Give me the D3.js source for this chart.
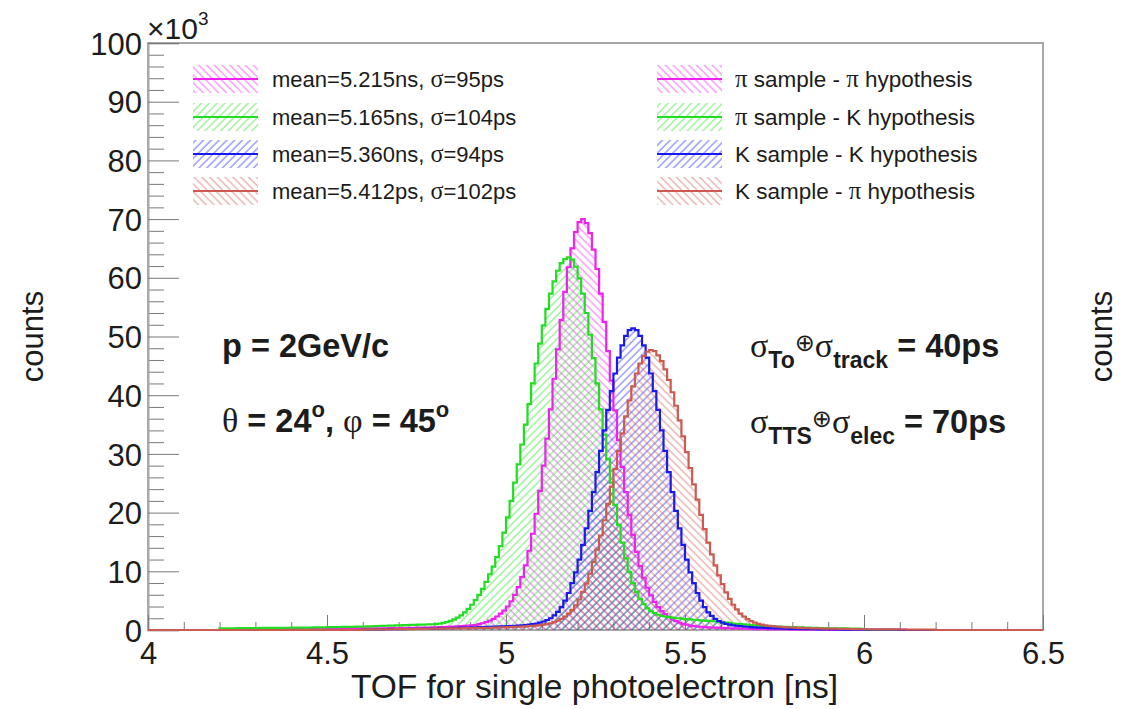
<!DOCTYPE html>
<html><head><meta charset="utf-8">
<script src="https://cdn.jsdelivr.net/npm/d3@7"></script>
<style>
body{margin:0;background:#fff;}
svg text{font-family:"Liberation Sans",Arial,Helvetica,sans-serif;fill:#1c1c1c;}
</style>
</head><body>
<svg id="chart" width="1138" height="709"></svg>
<script>
// ---------------- data (counts in units of 10^3, bin width 0.01 ns) ----------------
const binWidth = 0.01;
const xTickValues = [4, 4.5, 5, 5.5, 6, 6.5];
const xTickLabels = ["4", "4.5", "5", "5.5", "6", "6.5"];
const yTickValues = [0, 10, 20, 30, 40, 50, 60, 70, 80, 90, 100];
const yTickLabels = ["0", "10", "20", "30", "40", "50", "60", "70", "80", "90", "100"];
const legendLeftLabels = ["mean=5.215ns, σ=95ps", "mean=5.165ns, σ=104ps", "mean=5.360ns, σ=94ps", "mean=5.412ps, σ=102ps"];
const legendRightLabels = ["π sample - π hypothesis", "π sample - K hypothesis", "K sample - K hypothesis", "K sample - π hypothesis"];

// π sample - π hypothesis (magenta), first bin edge 4.20
const piPiStart = 4.20;
const piPiCounts = [
 0.1,0.1,0.1,0.1,0.12,0.12,0.12,0.12,0.14,0.14,
 0.14,0.15,0.15,0.15,0.16,0.16,0.16,0.17,0.17,0.18,
 0.18,0.18,0.19,0.19,0.2,0.2,0.2,0.21,0.21,0.22,
 0.22,0.23,0.23,0.24,0.24,0.25,0.25,0.26,0.26,0.27,
 0.27,0.28,0.28,0.29,0.29,0.3,0.3,0.31,0.32,0.33,
 0.34,0.35,0.36,0.37,0.38,0.39,0.4,0.42,0.43,0.45,
 0.47,0.49,0.51,0.53,0.56,0.59,0.62,0.66,0.7,0.75,
 0.8,0.85,1.0,1.15,1.35,1.6,1.9,2.3,2.8,3.3,
 4.0,4.9,6.0,7.3,9.0,11,13.5,16.4,19.8,23.7,
 28,32.6,37.6,42.8,47.8,52.8,57.6,61.8,65,67.8,
 69.5,70,69.3,67.6,64.8,61.5,57.3,52.5,47.5,42.5,
 37.4,32.4,27.8,23.5,19.6,16.2,13.3,10.9,8.9,7.2,
 5.9,4.8,3.9,3.2,2.7,2.2,1.8,1.5,1.25,1.05,
 0.9,0.75,0.65,0.6,0.55,0.5,0.45,0.42,0.4,0.38,
 0.35,0.32,0.3,0.28,0.26,0.24,0.22,0.2,0.18,0.16,
 0.15,0.14,0.13,0.12,0.11,0.1,0.1,0.09,0.09,0.08,
 0.08,0.07,0.07,0.06,0.06,0.05,0.05,0.05,0.04,0.04
];

// π sample - K hypothesis (green), first bin edge 4.20
const piKStart = 4.20;
const piKCounts = [
 0.3,0.3,0.3,0.3,0.3,0.32,0.32,0.32,0.32,0.34,
 0.34,0.34,0.35,0.35,0.36,0.36,0.37,0.37,0.38,0.38,
 0.39,0.4,0.4,0.41,0.42,0.43,0.44,0.45,0.46,0.47,
 0.48,0.49,0.5,0.51,0.52,0.53,0.54,0.55,0.56,0.58,
 0.6,0.62,0.64,0.66,0.68,0.7,0.72,0.74,0.76,0.78,
 0.8,0.82,0.84,0.86,0.88,0.9,0.92,0.94,0.96,0.98,
 1.0,1.1,1.2,1.35,1.55,1.8,2.1,2.5,3.0,3.6,
 4.3,5.1,6.0,7.0,8.2,9.5,10.8,12.4,14.3,16.6,
 19.2,22.0,25.1,28.2,31.6,35.0,38.5,42.0,45.4,48.8,
 51.9,54.7,57.3,59.4,61.2,62.5,63.2,63.5,63.1,61.9,
 59.9,57.3,54.0,50.3,46.3,42.0,37.6,33.3,29.1,25.1,
 21.3,17.9,14.9,12.2,9.9,8.0,6.5,5.3,4.4,3.7,
 3.2,2.9,2.6,2.4,2.3,2.2,2.1,2.0,2.0,1.9,
 1.85,1.8,1.75,1.7,1.65,1.6,1.55,1.5,1.45,1.4,
 1.3,1.25,1.2,1.1,1.05,1.0,0.95,0.9,0.85,0.8,
 0.75,0.7,0.68,0.65,0.62,0.6,0.57,0.55,0.52,0.5,
 0.48,0.46,0.44,0.42,0.4,0.38,0.36,0.34,0.33,0.32,
 0.3,0.29,0.28,0.27,0.26,0.25,0.24,0.23,0.22,0.21
];

// K sample - K hypothesis (blue), first bin edge 4.60
const kKStart = 4.60;
const kKCounts = [
 0.1,0.1,0.11,0.11,0.12,0.12,0.13,0.13,0.14,0.14,
 0.15,0.16,0.17,0.18,0.19,0.2,0.21,0.22,0.23,0.24,
 0.25,0.27,0.29,0.31,0.33,0.35,0.37,0.39,0.41,0.43,
 0.45,0.47,0.49,0.51,0.53,0.55,0.57,0.59,0.61,0.63,
 0.65,0.68,0.72,0.76,0.8,0.85,0.92,1.0,1.1,1.25,
 1.45,1.7,2.0,2.5,3.1,3.9,5.0,6.3,8.0,9.8,
 12.0,14.5,17.3,20.3,23.5,26.9,30.5,34.0,37.5,40.7,
 43.7,46.4,48.5,50.1,51.1,51.4,51.1,50.1,48.5,46.4,
 43.7,40.7,37.5,34.0,30.5,26.9,23.5,20.3,17.3,14.5,
 12.0,9.8,8.0,6.3,5.0,3.9,3.0,2.4,1.9,1.5,
 1.25,1.05,0.9,0.8,0.72,0.66,0.6,0.55,0.5,0.46,
 0.42,0.39,0.36,0.33,0.3,0.28,0.26,0.24,0.22,0.2,
 0.19,0.18,0.17,0.16,0.15,0.14,0.13,0.12,0.11,0.1,
 0.1,0.09,0.09,0.08,0.08,0.07,0.07,0.06,0.06,0.05,
 0.05,0.05,0.05,0.05,0.05,0.05,0.05,0.05,0.05,0.05
];

// K sample - π hypothesis (salmon), first bin edge 4.60
const kPiStart = 4.60;
const kPiCounts = [
 0.1,0.1,0.1,0.11,0.11,0.12,0.12,0.13,0.13,0.14,
 0.14,0.15,0.15,0.16,0.17,0.18,0.19,0.2,0.21,0.22,
 0.23,0.24,0.25,0.26,0.27,0.28,0.29,0.3,0.31,0.32,
 0.33,0.34,0.35,0.36,0.37,0.38,0.4,0.42,0.44,0.46,
 0.48,0.5,0.52,0.55,0.58,0.61,0.65,0.7,0.75,0.82,
 0.9,1.0,1.15,1.35,1.6,1.9,2.3,2.8,3.4,4.2,
 5.2,6.5,7.9,9.6,11.6,13.7,16.1,18.7,21.5,24.4,
 27.4,30.5,33.5,36.4,39.1,41.5,43.7,45.4,46.7,47.4,
 47.7,47.5,46.8,45.8,44.4,42.6,40.5,38.2,35.7,33.0,
 30.3,27.6,24.8,22.2,19.6,17.2,14.9,12.9,11.0,9.3,
 7.8,6.4,5.3,4.3,3.5,2.8,2.3,1.85,1.5,1.25,
 1.05,0.9,0.8,0.72,0.66,0.6,0.55,0.5,0.46,0.43,
 0.4,0.37,0.35,0.33,0.31,0.29,0.27,0.26,0.25,0.24,
 0.23,0.22,0.21,0.2,0.19,0.18,0.17,0.16,0.15,0.14,
 0.13,0.13,0.12,0.12,0.11,0.11,0.1,0.1,0.1,0.09,
 0.09,0.09,0.08,0.08,0.08,0.07,0.07,0.07,0.06,0.06
];

// ---------------- styling ----------------
const series = [
  {start: piPiStart, counts: piPiCounts, color: "#ee22ee", hatch: "back"},
  {start: piKStart,  counts: piKCounts,  color: "#22dd22", hatch: "fwd"},
  {start: kKStart,   counts: kKCounts,   color: "#1a1aee", hatch: "fwd"},
  {start: kPiStart,  counts: kPiCounts,  color: "#cc5a50", hatch: "back"}
];

const svg = d3.select("#chart");
const L = 148, R = 1043, T = 43, B = 630;
const x = d3.scaleLinear().domain([4, 6.5]).range([L, R]);
const y = d3.scaleLinear().domain([0, 100]).range([B, T]);

// hatch patterns
const defs = svg.append("defs");
series.forEach((s, i) => {
  const p = defs.append("pattern")
    .attr("id", "hatch" + i)
    .attr("patternUnits", "userSpaceOnUse")
    .attr("width", 5.5).attr("height", 5.5)
    .attr("patternTransform", s.hatch === "fwd" ? "rotate(45)" : "rotate(-45)");
  p.append("line").attr("x1", 1).attr("y1", -1).attr("x2", 1).attr("y2", 7)
    .attr("stroke", s.color).attr("stroke-width", 1.1).attr("stroke-opacity", 0.6);
});

// frame
svg.append("rect").attr("x", L).attr("y", T).attr("width", R - L).attr("height", B - T)
  .attr("fill", "none").attr("stroke", "#a8a8a8").attr("stroke-width", 2);

// histograms
function points(s) {
  const pts = [[4, 0]];
  s.counts.forEach((v, i) => pts.push([+(s.start + i * binWidth).toFixed(4), v]));
  pts.push([+(s.start + s.counts.length * binWidth).toFixed(4), 0]);
  pts.push([6.5, 0]);
  return pts;
}
const area = d3.area().x(d => x(d[0])).y0(y(0)).y1(d => y(d[1])).curve(d3.curveStepAfter);
const line = d3.line().x(d => x(d[0])).y(d => y(d[1])).curve(d3.curveStepAfter);
const gH = svg.append("g");
series.forEach((s, i) => {
  gH.append("path").attr("d", area(points(s))).attr("fill", `url(#hatch${i})`).attr("stroke", "none");
});
series.forEach((s, i) => {
  gH.append("path").attr("d", line(points(s))).attr("fill", "none").attr("stroke", s.color).attr("stroke-width", 2.2);
});

// axes
const yMinor = d3.range(0, 101, 2).filter(v => v % 10 !== 0);
const xMinor = d3.range(40, 66, 1).map(v => v / 10).filter(v => Math.round(v * 10) % 5 !== 0);
const font = "'Liberation Sans',Arial,sans-serif";

const gy = svg.append("g").attr("transform", `translate(${L},0)`);
gy.call(d3.axisLeft(y).tickValues(yMinor).tickSize(-16).tickFormat(""));
gy.selectAll(".tick line").attr("stroke", "#7a7a7a");
gy.select(".domain").remove();
const gy2 = svg.append("g").attr("transform", `translate(${L},0)`);
gy2.call(d3.axisLeft(y).tickValues(yTickValues).tickSize(-31).tickPadding(6)
  .tickFormat((d, i) => yTickLabels[i]));
gy2.select(".domain").attr("stroke", "#a8a8a8").attr("stroke-width", 2);
gy2.selectAll(".tick line").attr("stroke", "#7a7a7a");
gy2.selectAll(".tick text").attr("font-size", 31).attr("fill", "#1c1c1c").attr("dy", "0.36em")
  .style("font-family", font);

const gx = svg.append("g").attr("transform", `translate(0,${B})`);
gx.call(d3.axisBottom(x).tickValues(xMinor).tickSize(-8).tickFormat(""));
gx.selectAll(".tick line").attr("stroke", "#7a7a7a");
gx.select(".domain").remove();
const gx2 = svg.append("g").attr("transform", `translate(0,${B})`);
gx2.call(d3.axisBottom(x).tickValues(xTickValues).tickSize(-15).tickPadding(12)
  .tickFormat((d, i) => xTickLabels[i]));
gx2.select(".domain").remove();
gx2.selectAll(".tick line").attr("stroke", "#7a7a7a");
gx2.selectAll(".tick text").attr("font-size", 31).attr("fill", "#1c1c1c")
  .style("font-family", font);

gH.raise();

// ×10^3
const mult = svg.append("text").attr("x", 147).attr("y", 39).attr("font-size", 30);
mult.append("tspan").text("×10");
mult.append("tspan").attr("font-size", 19).attr("dy", -14).text("3");

// axis titles
svg.append("text").attr("x", (L + R) / 2 - 1).attr("y", 698).attr("text-anchor", "middle")
  .attr("font-size", 33.5).text("TOF for single photoelectron [ns]");
svg.append("text").attr("transform", `translate(43,${(T + B) / 2}) rotate(-90)`)
  .attr("text-anchor", "middle").attr("font-size", 31).text("counts");
svg.append("text").attr("transform", `translate(1112,${(T + B) / 2}) rotate(-90)`)
  .attr("text-anchor", "middle").attr("font-size", 31).text("counts");

// legend helper: Greek letters in serif
const serif = "'Liberation Serif','Times New Roman',serif";
function richText(sel, str) {
  str.split(/([πσ])/).forEach(part => {
    if (!part) return;
    const t = sel.append("tspan").text(part);
    if (/[πσ]/.test(part)) t.style("font-family", serif).attr("font-size", "1.1em");
  });
}
const rowY = [79, 117, 154, 191];
function legend(labels, swX, txtX, fs) {
  labels.forEach((lab, i) => {
    const s = series[i];
    svg.append("rect").attr("x", swX).attr("y", rowY[i] - 14).attr("width", 65).attr("height", 28)
      .attr("fill", `url(#hatch${i})`);
    svg.append("line").attr("x1", swX).attr("x2", swX + 65).attr("y1", rowY[i]).attr("y2", rowY[i])
      .attr("stroke", s.color).attr("stroke-width", 2.2);
    const t = svg.append("text").attr("x", txtX).attr("y", rowY[i] + 7.5).attr("font-size", fs);
    richText(t, lab);
  });
}
legend(legendLeftLabels, 193, 272, 22);
legend(legendRightLabels, 657, 735, 22.5);

// annotations
svg.append("text").attr("x", 222).attr("y", 357).attr("font-size", 32.5).attr("font-weight", "bold")
  .text("p = 2GeV/c");
const a2 = svg.append("text").attr("x", 222).attr("y", 432).attr("font-size", 32.5).attr("font-weight", "bold");
a2.append("tspan").style("font-family", serif).attr("font-weight", "normal").attr("font-size", 34).text("θ");
a2.append("tspan").text(" = 24");
a2.append("tspan").attr("font-size", 22).attr("dy", -15).text("o");
a2.append("tspan").attr("dy", 15).text(",  ");
a2.append("tspan").style("font-family", serif).attr("font-weight", "normal").attr("font-size", 34).text("φ");
a2.append("tspan").text(" = 45");
a2.append("tspan").attr("font-size", 22).attr("dy", -15).text("o");

function sigmaLine(yb, sub1, sub2, val) {
  const t = svg.append("text").attr("x", 750).attr("y", yb).attr("font-size", 32.5).attr("font-weight", "bold");
  t.append("tspan").style("font-family", serif).attr("font-weight", "normal").attr("font-size", 34).text("σ");
  t.append("tspan").attr("font-size", 23).attr("dy", 11).text(sub1);
  t.append("tspan").style("font-family", "'DejaVu Sans',sans-serif").attr("font-weight", "normal")
    .attr("font-size", 24).attr("dy", -17).text("⊕");
  t.append("tspan").style("font-family", serif).attr("font-weight", "normal").attr("font-size", 34).attr("dy", 6).text("σ");
  t.append("tspan").attr("font-size", 23).attr("dy", 11).text(sub2);
  t.append("tspan").attr("dy", -11).text(" = " + val);
}
sigmaLine(357, "To", "track", "40ps");
sigmaLine(433, "TTS", "elec", "70ps");
</script>
</body></html>
